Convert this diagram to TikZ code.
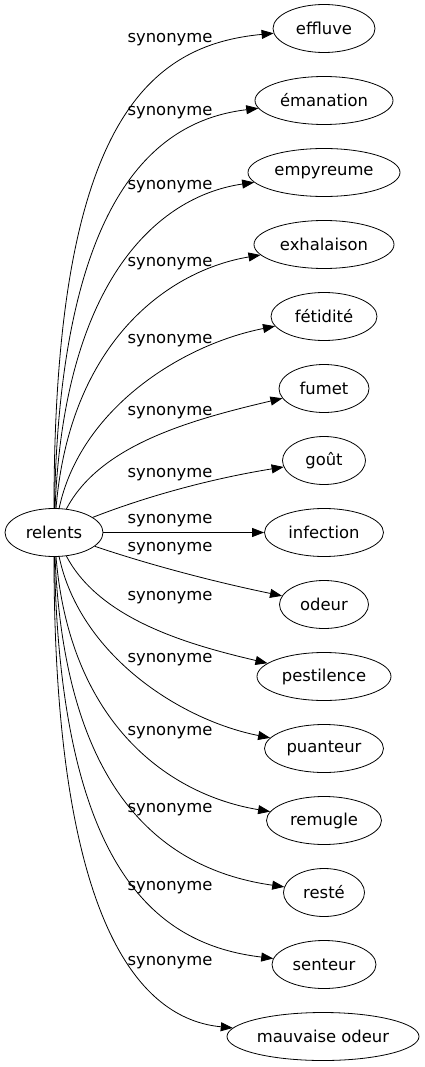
\documentclass[tikz,border=0pt]{standalone}
\usepackage{fontspec}
\usetikzlibrary{arrows.meta,shapes.geometric}
\newfontfamily\wordfont{DejaVu Sans}
\tikzset{word/.style={ellipse, draw, line width=0.8pt, inner sep=0pt, minimum height=48pt, font=\wordfont\fontsize{16.4}{19}\selectfont}}
\tikzset{lbl/.style={inner sep=0pt, font=\wordfont\fontsize{16.4}{19}\selectfont}}
\tikzset{syn/.style={draw, line width=0.8pt, -{Triangle[length=12pt,width=9pt]}}}

\begin{document}
\begin{tikzpicture}[x=1pt, y=-1pt]
	\useasboundingbox (0,0) rectangle (425,1067);
	\node[word, minimum width=98pt] (relents) at (54,532.5){relents};
	
	\node[word, minimum width=102pt] (effluve) at (324,28.5){effluve};
	\node[word, minimum width=138pt] (emanation) at (324,100.5){émanation};
	\node[word, minimum width=152pt] (empyreume) at (324,172.5){empyreume};
	\node[word, minimum width=140pt] (exhalaison) at (324,244.5){exhalaison};
	\node[word, minimum width=106pt] (fetidite) at (324,316.5){fétidité};
	\node[word, minimum width=90pt] (fumet) at (324,388.5){fumet};
	\node[word, minimum width=83pt] (gout) at (324,460.5){goût};
	\node[word, minimum width=119pt] (infection) at (324,532.5){infection};
	\node[word, minimum width=89pt] (odeur) at (324,604.5){odeur};
	\node[word, minimum width=134pt] (pestilence) at (324,676.5){pestilence};
	\node[word, minimum width=119pt] (puanteur) at (324,748.5){puanteur};
	\node[word, minimum width=115pt] (remugle) at (324,820.5){remugle};
	\node[word, minimum width=81pt] (reste) at (324,892.5){resté};
	\node[word, minimum width=104pt] (senteur) at (324,964.5){senteur};
	\node[word, minimum width=192pt] (mauvaise) at (323,1036.5){mauvaise odeur};
	
	% edges above relents
	\draw[syn] (relents) .. controls (54,120) and (150,45) .. (effluve);
	\draw[syn] (relents) .. controls (60,190) and (160,120) .. (emanation);
	\draw[syn] (relents) .. controls (65,270) and (165,195) .. (empyreume);
	\draw[syn] (relents) .. controls (70,340) and (170,270) .. (exhalaison);
	\draw[syn] (relents) .. controls (80,410) and (180,345) .. (fetidite);
	\draw[syn] (relents) .. controls (100,445) and (190,420) .. (fumet);
	\draw[syn] (relents) .. controls (150,495) and (215,478) .. (gout);
	\draw[syn] (relents) -- (infection);
	% edges below relents
	\draw[syn] (relents) .. controls (150,565) and (215,582) .. (odeur);
	\draw[syn] (relents) .. controls (100,620) and (190,645) .. (pestilence);
	\draw[syn] (relents) .. controls (80,655) and (180,720) .. (puanteur);
	\draw[syn] (relents) .. controls (70,725) and (170,795) .. (remugle);
	\draw[syn] (relents) .. controls (65,795) and (165,870) .. (reste);
	\draw[syn] (relents) .. controls (60,875) and (160,945) .. (senteur);
	\draw[syn] (relents) .. controls (54,945) and (150,1020) .. (mauvaise);
	
	\node[lbl] (l1) at (170,40){synonyme};
	\node[lbl] (l2) at (170,113){synonyme};
	\node[lbl] (l3) at (170,187){synonyme};
	\node[lbl] (l4) at (170,264){synonyme};
	\node[lbl] (l5) at (170,341){synonyme};
	\node[lbl] (l6) at (170,413){synonyme};
	\node[lbl] (l7) at (170,475){synonyme};
	\node[lbl] (l8) at (170,521){synonyme};
	\node[lbl] (l9) at (170,549){synonyme};
	\node[lbl] (l10) at (170,598){synonyme};
	\node[lbl] (l11) at (170,660){synonyme};
	\node[lbl] (l12) at (170,733){synonyme};
	\node[lbl] (l13) at (170,810){synonyme};
	\node[lbl] (l14) at (170,888){synonyme};
	\node[lbl] (l15) at (170,963){synonyme};
\end{tikzpicture}
\end{document}
